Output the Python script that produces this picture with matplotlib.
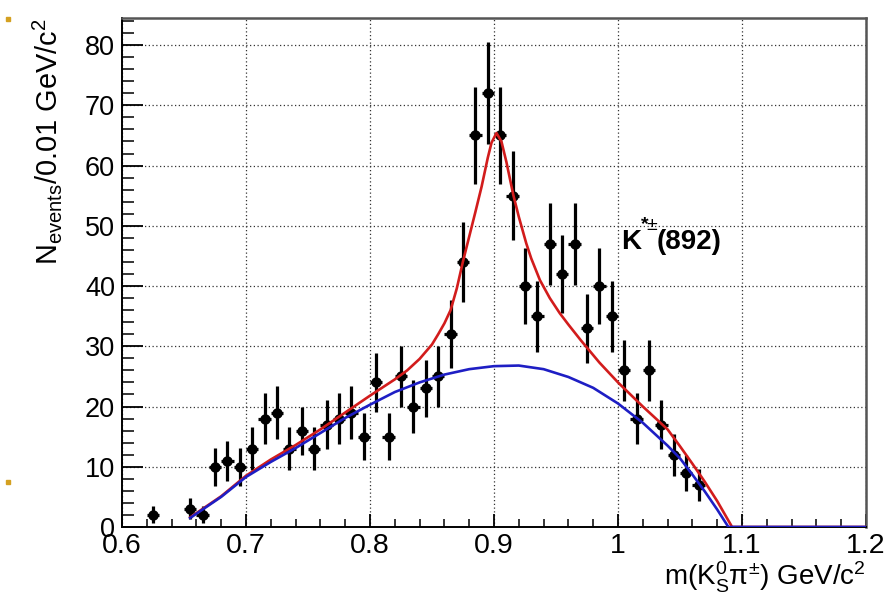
import numpy as np
import matplotlib
matplotlib.use("Agg")
import matplotlib.pyplot as plt
from matplotlib.ticker import MultipleLocator, FixedLocator, FixedFormatter

plt.rcParams["font.family"] = ["Liberation Sans", "DejaVu Sans"]
plt.rcParams["mathtext.fontset"] = "custom"
plt.rcParams["mathtext.rm"] = "Liberation Sans"
plt.rcParams["mathtext.it"] = "Liberation Sans:italic"
plt.rcParams["mathtext.bf"] = "Liberation Sans:bold"

# histogram bins (centres) and counts
bin_centres = [0.625, 0.655, 0.665, 0.675, 0.685, 0.695, 0.705, 0.715, 0.725, 0.735,
               0.745, 0.755, 0.765, 0.775, 0.785, 0.795, 0.805, 0.815, 0.825, 0.835,
               0.845, 0.855, 0.865, 0.875, 0.885, 0.895, 0.905, 0.915, 0.925, 0.935,
               0.945, 0.955, 0.965, 0.975, 0.985, 0.995, 1.005, 1.015, 1.025, 1.035,
               1.045, 1.055, 1.065]
counts = [2, 3, 2, 10, 11, 10, 13, 18, 19, 13,
          16, 13, 17, 18, 19, 15, 24, 15, 25, 20,
          23, 25, 32, 44, 65, 72, 65, 55, 40, 35,
          47, 42, 47, 33, 40, 35, 26, 18, 26, 17,
          12, 9, 7]

# total fit (signal + background)
fit_x = [0.655, 0.68, 0.70, 0.72, 0.74, 0.76, 0.78, 0.80, 0.82, 0.83, 0.84, 0.85,
         0.855, 0.86, 0.865, 0.87, 0.875, 0.88, 0.885, 0.89, 0.895, 0.898, 0.902,
         0.906, 0.91, 0.9156, 0.92, 0.926, 0.93, 0.937, 0.945, 0.953, 0.96, 0.97,
         0.985, 1.00, 1.02, 1.04, 1.05, 1.06, 1.07, 1.08, 1.092, 1.2]
fit_y = [1.6, 5.1, 8.5, 11.2, 13.6, 16.2, 19.0, 21.8, 24.5, 26.0, 27.9, 30.3,
         32.0, 33.8, 36.0, 39.6, 44.1, 48.2, 52.3, 56.5, 61.3, 63.8, 65.4,
         64.0, 60.6, 55.1, 51.5, 47.1, 44.6, 41.0, 38.0, 35.5, 33.6, 31.0,
         27.3, 24.0, 20.0, 16.2, 13.4, 10.5, 7.5, 4.3, 0.0, 0.0]

# background component
bkg_x = [0.655, 0.68, 0.70, 0.72, 0.74, 0.76, 0.78, 0.80, 0.82, 0.84, 0.86, 0.88,
         0.90, 0.92, 0.94, 0.96, 0.98, 1.00, 1.02, 1.04, 1.05, 1.06, 1.07, 1.08,
         1.089, 1.2]
bkg_y = [1.5, 5.0, 8.3, 10.8, 13.1, 15.6, 18.1, 20.3, 22.4, 24.0, 25.3, 26.2,
         26.7, 26.8, 26.2, 24.9, 23.1, 20.5, 17.3, 13.5, 11.4, 8.7, 5.9, 2.9,
         0.0, 0.0]

x_tick_values = [0.6, 0.7, 0.8, 0.9, 1.0, 1.1, 1.2]
x_tick_labels = ["0.6", "0.7", "0.8", "0.9", "1", "1.1", "1.2"]

fig = plt.figure(figsize=(8.95, 6.06), dpi=100)
ax = fig.add_axes([0.1363, 0.1304, 0.8313, 0.8399])

ax.set_xlim(0.6, 1.2)
ax.set_ylim(0, 84.5)

ax.grid(True, which="major", color="#333333", linestyle=(0, (1, 2)), linewidth=0.9)
ax.set_axisbelow(True)

ax.errorbar(bin_centres, counts, yerr=np.sqrt(counts), xerr=0.005, fmt="o",
            color="black", markersize=6.5, elinewidth=2.3, capsize=0, zorder=3)

ax.plot(fit_x, fit_y, color="#d21c1c", linewidth=1.9, zorder=4)
ax.plot(bkg_x, bkg_y, color="#1e1ec4", linewidth=1.9, zorder=5)

# label of the resonance
ax.text(1.0022, 46.2, "K", fontsize=20, fontweight="bold", ha="left", va="baseline")
ax.text(1.0186, 49.5, "*", fontsize=14, fontweight="bold", ha="left", va="baseline")
ax.text(1.0228, 49.3, "\u00b1", fontsize=14, ha="left", va="baseline")
ax.text(1.0315, 46.2, "(892)", fontsize=20, fontweight="bold", ha="left", va="baseline")

ax.xaxis.set_major_locator(FixedLocator(x_tick_values))
ax.xaxis.set_major_formatter(FixedFormatter(x_tick_labels))
ax.xaxis.set_minor_locator(MultipleLocator(0.02))
ax.yaxis.set_major_locator(MultipleLocator(10))
ax.yaxis.set_minor_locator(MultipleLocator(2))

ax.tick_params(axis="x", which="major", direction="in", length=9.5, width=1.3,
               labelsize=20.5, pad=4, top=False)
ax.tick_params(axis="x", which="minor", direction="in", length=5.8, width=1.1, top=False)
ax.tick_params(axis="y", which="major", direction="in", length=15, width=1.3,
               labelsize=19.5, pad=5, right=False)
ax.tick_params(axis="y", which="minor", direction="in", length=8.6, width=1.1, right=False)

for side in ["left", "bottom"]:
    ax.spines[side].set_linewidth(1.4)
    ax.spines[side].set_color("black")
for side in ["top", "right"]:
    ax.spines[side].set_linewidth(1.8)
    ax.spines[side].set_color("#555555")

fig.text(0.033, 0.969, r"N$_{\mathrm{events}}$/0.01 GeV/c$^{2}$", fontsize=20.8,
         rotation=90, ha="left", va="top")
ax.set_xlabel(r"m(K$^{0}_{\mathrm{S}}$π$^{\pm}$) GeV/c$^{2}$", fontsize=20,
              loc="right", labelpad=1)

# small slide bullets left over in the picture
for yy in [0.9653, 0.2013]:
    fig.patches.append(plt.Rectangle((0.0067, yy), 0.0045, 0.0066, color="#d4a020",
                                     transform=fig.transFigure, figure=fig))

fig.savefig("out.png", dpi=100)
